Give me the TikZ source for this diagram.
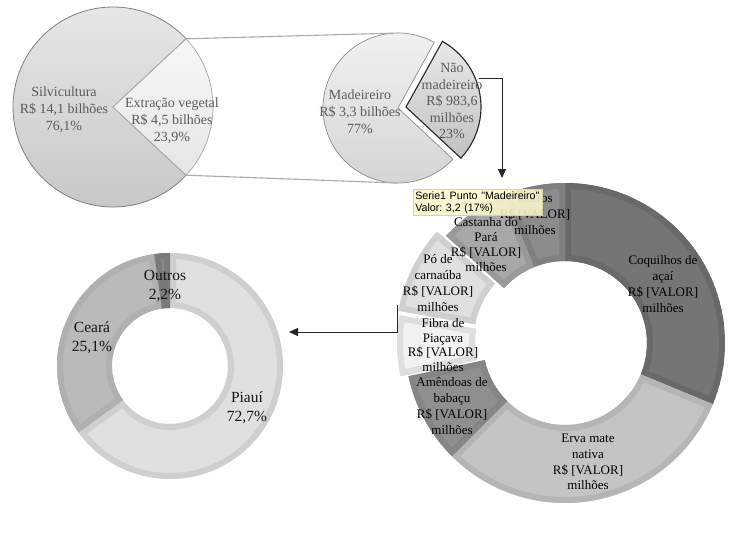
\documentclass[tikz,border=0pt]{standalone}
\usepackage{fontspec}
\setmainfont{Liberation Serif}
\newfontfamily\tipfont{Liberation Sans}
\usetikzlibrary{arrows.meta,calc}
\definecolor{toptext}{HTML}{5A5A5A}
\definecolor{conn}{HTML}{ABABAB}
\definecolor{pieedge}{HTML}{7F7F7F}
\definecolor{tipfill}{HTML}{FBF7CC}
\definecolor{tipedge}{HTML}{D6D2A4}
\newcommand\ringseg[9]{%
  \begin{scope}[shift={(#1,#2)}]
    \begin{scope}
      \clip (#5:#4) arc[start angle=#5,end angle=#6,radius=#4] -- (#6:#3) arc[start angle=#6,end angle=#5,radius=#3] -- cycle;
      \fill[#7] (#5:#4) arc[start angle=#5,end angle=#6,radius=#4] -- (#6:#3) arc[start angle=#6,end angle=#5,radius=#3] -- cycle;
      \draw[#8,line width=12pt] (#5:#4) arc[start angle=#5,end angle=#6,radius=#4] -- (#6:#3) arc[start angle=#6,end angle=#5,radius=#3] -- cycle;
    \end{scope}
    \coordinate (#9) at ({(#5+#6)/2}:{(#3+#4)/2});
  \end{scope}}
\tikzset{
  toptxt/.style={align=center,text=toptext,inner sep=0pt,font=\fontsize{14}{17}\selectfont},
  rtxt/.style={align=center,text=black,inner sep=0pt,font=\fontsize{13}{15.8}\selectfont},
  ltxt/.style={align=center,text=black!92,inner sep=0pt,font=\fontsize{15.5}{19.5}\selectfont},
  connline/.style={draw=conn,line width=1.1pt},
  arr/.style={draw=black!85,line width=1pt,-{Triangle[width=8pt,length=9pt]}},
  tip/.style={draw=tipedge,line width=0.5pt,fill=tipfill,fill opacity=0.88,text opacity=1,
    anchor=north west,minimum width=129pt,minimum height=25pt,text width=125pt,inner sep=2pt,
    align=left,font=\tipfont\fontsize{10.7}{12.4}\selectfont\frenchspacing}
}
\begin{document}
\begin{tikzpicture}[x=1pt,y=1pt]
\useasboundingbox[fill=white] (0,0) rectangle (737,-539);

% ---------- top-left pie ----------
\begin{scope}[shift={(113,-107)}]
  \shade[top color=black!9,bottom color=black!22] (0,0) -- (43:100) arc[start angle=43,end angle=317,radius=100] -- cycle;
  \draw[pieedge,line width=0.8pt] (0,0) -- (43:100) arc[start angle=43,end angle=317,radius=100] -- cycle;
  \shade[top color=black!3,bottom color=black!10] (0,0) -- (-43:100) arc[start angle=-43,end angle=43,radius=100] -- cycle;
  \draw[black!35,line width=0.7pt] (0,0) -- (-43:100) arc[start angle=-43,end angle=43,radius=100] -- cycle;
  \coordinate (extTop) at (43:100);
  \coordinate (extBot) at (-43:100);
\end{scope}
\node[toptxt] (silv) at (64,-110) {Silvicultura\\R\$ 14,1 bilhões\\76,1\%};
\node[toptxt] (extr) at (172,-121) {Extração vegetal\\R\$ 4,5 bilhões\\23,9\%};

% ---------- top-right pie ----------
\begin{scope}[shift={(398,-108)}]
  \shade[top color=black!5,bottom color=black!17] (0,0) -- (61:75) arc[start angle=61,end angle=317,radius=75] -- cycle;
  \draw[black!45,line width=0.7pt] (0,0) -- (61:75) arc[start angle=61,end angle=317,radius=75] -- cycle;
  \coordinate (madTop) at (94:75);
  \coordinate (madBot) at (-91:75);
\end{scope}
\begin{scope}[shift={(406,-107)}]
  \shade[top color=black!9,bottom color=black!24] (0,0) -- (-43:75) arc[start angle=-43,end angle=61,radius=75] -- cycle;
  \draw[black!85,line width=1.1pt] (0,0) -- (-43:75) arc[start angle=-43,end angle=61,radius=75] -- cycle;
\end{scope}
\coordinate (nmOut) at (479,-78);
\coordinate (nmArrowEnd) at (502,-178);
\node[toptxt] (mad) at (360,-112) {Madeireiro\\R\$ 3,3 bilhões\\77\%};
\node[toptxt,font=\fontsize{14}{16.5}\selectfont] (nmad) at (452,-101) {Não\\madeireiro\\R\$ 983,6\\milhões\\23\%};

\draw[connline] (extTop) -- (madTop);
\draw[connline] (extBot) -- (madBot);
\draw[arr] (nmOut) -| (nmArrowEnd);

% ---------- right donut ----------
\ringseg{565}{-343}{82}{160}{90}{-22.5}{black!54}{black!59}{sCoq}
\ringseg{565}{-343}{82}{160}{-22.5}{-135}{black!23}{black!29}{sErva}
\ringseg{565}{-343}{82}{160}{225}{192}{black!44}{black!48}{sAmen}
\ringseg{557}{-343}{82}{160}{192}{170}{black!5}{black!13}{sFibra}
\ringseg{556}{-338.6}{82}{160}{170}{138}{black!12}{black!19}{sPo}
\ringseg{565}{-343}{82}{160}{138}{112}{black!34}{black!40}{sCast}
\ringseg{565}{-343}{82}{160}{112}{90}{black!45}{black!50}{sOut}

\node[rtxt] (tCoq) at (663,-284) {Coquilhos de\\açaí\\R\$ [VALOR]\\milhões};
\node[rtxt] (tErva) at (588,-462) {Erva mate\\nativa\\R\$ [VALOR]\\milhões};
\node[rtxt] (tAmen) at (452,-406) {Amêndoas de\\babaçu\\R\$ [VALOR]\\milhões};
\node[rtxt,font=\fontsize{13}{14.5}\selectfont] (tFibra) at (443,-345) {Fibra de\\Piaçava\\R\$ [VALOR]\\milhões};
\node[rtxt] (tPo) at (438,-283) {Pó de\\carnaúba\\R\$ [VALOR]\\milhões};
\node[rtxt,font=\fontsize{13}{15}\selectfont] (tCast) at (486,-245) {Castanha do\\Pará\\R\$ [VALOR]\\milhões};
\node[rtxt] (tOut) at (535,-214) {Outros\\R\$ [VALOR]\\milhões};

% ---------- left donut ----------
\ringseg{170}{-366}{58}{113}{-144}{90}{black!12}{black!19}{lPiaui}
\ringseg{170}{-366}{58}{113}{98}{216}{black!27}{black!31}{lCeara}
\ringseg{170}{-366}{58}{113}{90}{98}{black!45}{black!52}{lOutros}

\node[ltxt] (tlOut) at (165,-286) {Outros\\2,2\%};
\node[ltxt] (tlCe) at (92,-338) {Ceará\\25,1\%};
\node[ltxt] (tlPi) at (247,-408) {Piauí\\72,7\%};

\coordinate (poCorner) at (397,-305);
\coordinate (leftArrowEnd) at (289,-332);
\draw[arr] (poCorner) |- (leftArrowEnd);

% ---------- tooltip ----------
\node[tip] (tooltip) at (413,-189) {Serie1 Punto "Madeireiro"\\Valor: 3,2 (17\%)};
\end{tikzpicture}
\end{document}
